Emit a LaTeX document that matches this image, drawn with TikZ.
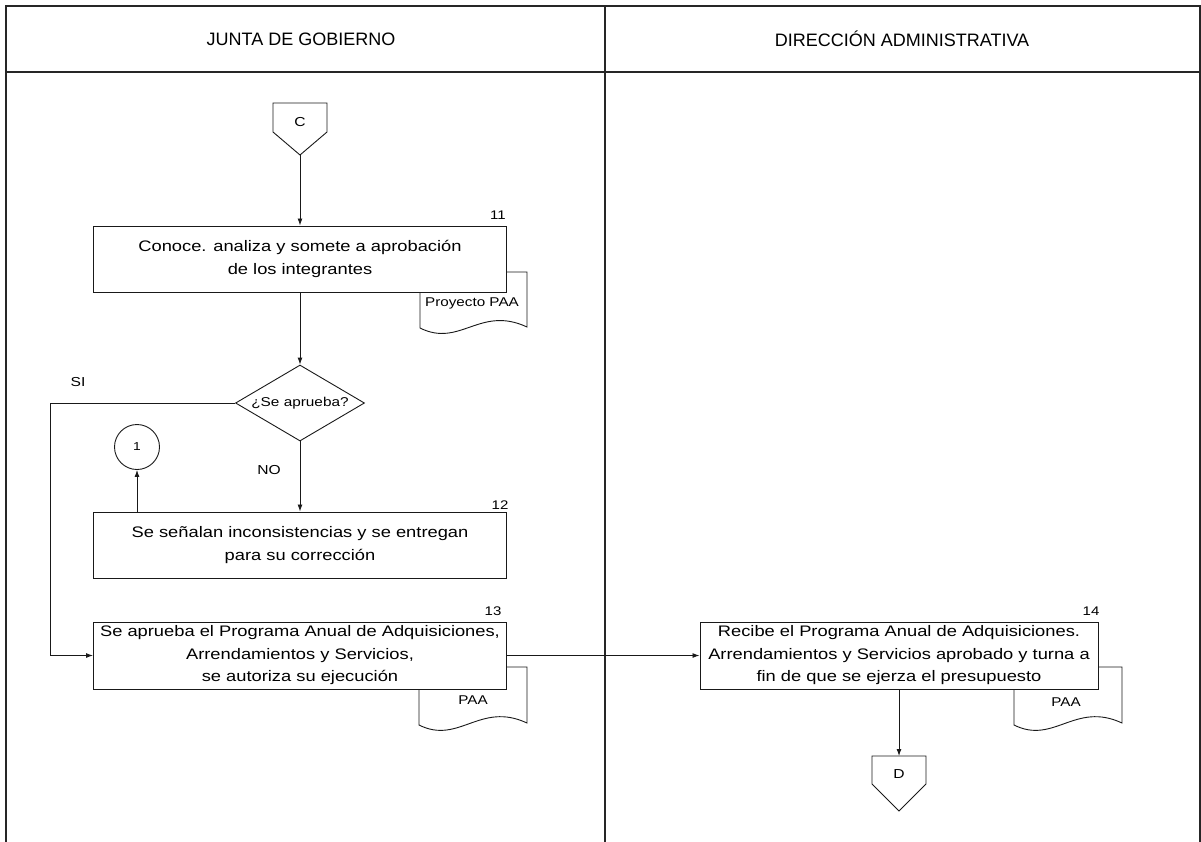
\documentclass[tikz,border=0pt]{standalone}
\usepackage{fontspec}
\setmainfont{Liberation Sans}
\newfontfamily\bodyfont[FakeStretch=1.2]{Liberation Sans}
\usetikzlibrary{arrows.meta,shapes.geometric}

\tikzset{
  frame/.style={line width=1.4pt, draw=black!85},
  flow/.style={line width=0.9pt, draw=black!90},
  arr/.style={flow, -{Latex[length=7pt,width=5pt]}},
  stepbox/.style={draw=black!90, line width=1pt, fill=white, inner sep=0pt,
    minimum height=66pt, align=center,
    font=\bodyfont\fontsize{15.25}{22.5}\selectfont},
  numlabel/.style={font=\bodyfont\fontsize{12.5}{13}\selectfont, inner sep=0pt},
  doclabel/.style={font=\bodyfont\fontsize{12.7}{14}\selectfont, inner sep=0pt},
  smalltext/.style={font=\bodyfont\fontsize{13}{14}\selectfont, inner sep=0pt},
  headtext/.style={font=\fontsize{18}{20}\selectfont, inner sep=0pt},
  docshape/.style={draw=black!90, line width=0.9pt, fill=white},
  decision/.style={diamond, draw=black!90, line width=0.9pt, fill=white,
    aspect=1.7, minimum width=129pt, minimum height=76pt, inner sep=0pt,
    font=\bodyfont\fontsize{12.8}{14}\selectfont},
  onpage/.style={circle, draw=black!90, line width=0.9pt, minimum size=45pt,
    inner sep=0pt, font=\bodyfont\fontsize{11.5}{12}\selectfont},
}

\begin{document}
\begin{tikzpicture}[x=1pt,y=-1pt]
\useasboundingbox (0,0) rectangle (1201,841);

% swimlane frame
\draw[frame] (6,860) -- (6,6) -- (1200,6) -- (1200,860);
\draw[frame] (6,72) -- (1200,72);
\draw[frame] (605,6) -- (605,860);
\node[headtext] (hjunta) at (301,39) {JUNTA DE GOBIERNO};
\node[headtext] (hdir) at (902,39) {DIRECCIÓN ADMINISTRATIVA};

% off-page connector C
\draw[flow] (273,103) -- (327,103) -- (327,132) -- (300,155) -- (273,132) -- cycle;
\node[smalltext] (cC) at (300,122) {C};
\coordinate (Cb) at (300,155);

% documents (drawn first so the boxes overlap them)
\draw[docshape] (420,328) -- (420,272) -- (527,272) -- (527,327)
  .. controls (480,305) and (460,348) .. (420,328) -- cycle;
\node[doclabel] (d11) at (472,303) {Proyecto PAA};
\draw[docshape] (419,725) -- (419,667) -- (527,667) -- (527,723)
  .. controls (480,701) and (459,745) .. (419,725) -- cycle;
\node[doclabel] (d13) at (473,700) {PAA};
\draw[docshape] (1014,725) -- (1014,667) -- (1122,667) -- (1122,723)
  .. controls (1075,701) and (1054,745) .. (1014,725) -- cycle;
\node[doclabel] (d14) at (1066,702) {PAA};

% activities
\node[stepbox, minimum width=413pt] (b11) at (300,259)
  {Conoce. analiza y somete a aprobación\\de los integrantes};
\node[numlabel] (n11) at (498,215) {11};

\node[decision] (dia) at (300,403) {¿Se aprueba?};

\node[onpage] (c1) at (137,447) {1};

\node[stepbox, minimum width=413pt] (b12) at (300,545)
  {Se señalan inconsistencias y se entregan\\para su corrección};
\node[numlabel] (n12) at (500,505) {12};

\node[stepbox, minimum width=413pt, minimum height=67pt] (b13) at (300,655.5)
  {Se aprueba el Programa Anual de Adquisiciones,\\Arrendamientos y Servicios,\\se autoriza su ejecución};
\node[numlabel] (n13) at (493,611) {13};

\node[stepbox, minimum width=398pt, minimum height=67pt] (b14) at (899,655.5)
  {Recibe el Programa Anual de Adquisiciones.\\Arrendamientos y Servicios aprobado y turna a\\fin de que se ejerza el presupuesto};
\node[numlabel] (n14) at (1091,611) {14};

% off-page connector D
\draw[flow] (872,756) -- (926,756) -- (926,784) -- (899,811) -- (872,784) -- cycle;
\node[smalltext] (cD) at (899,774) {D};
\coordinate (Dt) at (899,756);

% labels of the decision branches
\node[smalltext] (si) at (78,382) {SI};
\node[smalltext] (no) at (269,470) {NO};

% connectors
\coordinate (siTurn) at (50,403);
\draw[arr] (Cb) -- (b11.north);
\draw[arr] (b11.south) -- (dia.north);
\draw[arr] (dia.south) -- (b12.north);
\draw[arr] (dia.west) -- (siTurn) -- (siTurn |- b13.west) -- (b13.west);
\draw[arr] (c1 |- b12.north) -- (c1.south);
\draw[arr] (b13.east) -- (b14.west);
\draw[arr] (b14.south) -- (Dt);
\end{tikzpicture}
\end{document}
